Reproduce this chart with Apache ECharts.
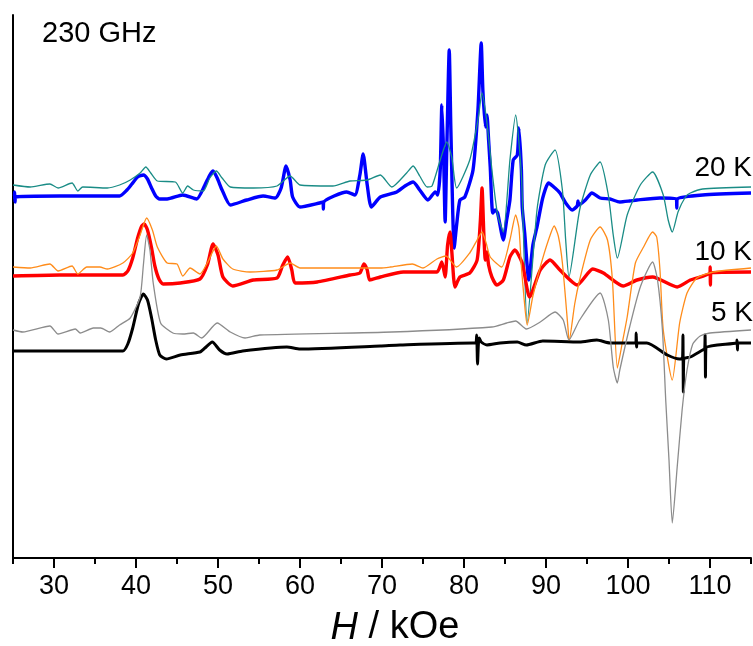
<!DOCTYPE html>
<html>
<head>
<meta charset="utf-8">
<script src="https://cdn.jsdelivr.net/npm/echarts@6/dist/echarts.min.js"></script>
<style>
html,body{margin:0;padding:0;background:#fff;}
#chart{width:753px;height:646px;}
</style>
</head>
<body>
<div id="chart"></div>
<script>
// Field H (kOe) and signal (arbitrary units, traces vertically offset)
const majorTicks = [30, 40, 50, 60, 70, 80, 90, 100, 110];
const minorTicks = [25, 35, 45, 55, 65, 75, 85, 95, 105, 115];

const exp20K = [[25.0,361],[25.15,361],[25.2,366],[25.25,356],[25.3,361],[30.7,362],[38.0,362],[38.9,368],[39.5,374],[40.2,381],[40.9,383],[41.4,379],[41.9,370],[42.4,362],[42.9,359],[43.8,359],[45.7,363],[47.4,359],[48.4,373],[49.0,383],[49.4,387],[49.9,380],[50.5,368],[51.5,353],[53.5,358],[55.5,362],[57.0,360],[57.7,370],[58.3,392],[58.8,378],[59.1,361],[60.0,351],[62.4,355],[62.8,356],[62.85,349],[62.9,356],[65.7,366],[66.7,363],[67.3,383],[67.7,404],[68.2,373],[68.7,351],[69.8,361],[71.8,366],[72.8,372],[73.8,376],[74.6,368],[75.6,358],[76.5,366],[76.8,363],[77.1,388],[77.3,453],[77.5,408],[77.7,336],[77.9,408],[78.2,508],[78.4,428],[78.8,310],[79.1,333],[79.5,358],[80.1,361],[81.1,388],[81.7,448],[82.1,515],[82.3,468],[82.6,431],[82.8,443],[83.0,418],[83.2,391],[83.5,345],[83.8,348],[84.1,345],[84.8,318],[85.2,338],[85.6,358],[86.0,398],[86.5,403],[86.7,430],[87.0,388],[87.1,351],[87.4,325],[87.9,278],[88.4,313],[88.9,331],[89.6,360],[90.3,375],[91.1,370],[91.7,365],[92.4,355],[93.2,348],[93.8,352],[93.9,357],[94.0,353],[94.8,358],[95.6,365],[96.6,360],[97.8,359],[99.0,356],[100.2,357],[101.1,358],[103.9,360],[105.9,359],[105.95,350],[106.0,359],[109.1,363],[115.0,365]];

const sim20K = [[25.0,373],[27.1,371],[29.5,374],[30.5,370],[32.2,375],[32.9,367],[33.5,371],[36.5,370],[38.0,373],[39.3,378],[40.5,385],[41.2,391],[41.8,385],[42.6,377],[44.8,376],[45.7,365],[46.3,372],[47.0,368],[48.2,367],[49.0,380],[49.8,387],[50.5,380],[51.5,371],[54.3,370],[57.2,372],[58.8,382],[60.0,373],[64.0,372],[66.1,377],[68.2,378],[69.8,383],[71.2,371],[73.0,385],[73.8,392],[74.6,382],[75.5,371],[76.1,372],[77.1,398],[77.9,416],[78.5,401],[79.1,370],[80.7,398],[81.7,438],[82.2,465],[82.8,435],[83.5,381],[84.1,343],[84.8,326],[85.6,398],[86.3,443],[87.0,383],[87.7,235],[88.9,348],[89.9,393],[91.1,408],[92.0,368],[92.4,318],[92.8,281],[94.1,348],[95.4,383],[96.6,396],[97.6,363],[98.2,323],[98.7,300],[99.9,343],[101.5,373],[103.0,386],[104.3,363],[104.9,338],[105.4,326],[106.1,346],[107.0,361],[107.6,365],[109.1,369],[115.0,371]];

const exp10K = [[25.0,282],[30.7,283],[38.4,283],[39.0,287],[39.6,300],[40.2,320],[40.7,332],[41.0,334],[41.4,328],[41.9,310],[42.3,292],[42.8,279],[43.3,274],[45.4,275],[47.8,279],[48.7,293],[49.4,314],[50.0,303],[50.6,281],[51.8,272],[54.3,278],[57.2,280],[57.9,293],[58.5,301],[59.0,288],[59.4,275],[62.1,276],[66.1,283],[67.3,285],[67.8,294],[68.2,288],[68.5,278],[69.8,281],[72.6,286],[76.7,286],[77.3,296],[77.7,281],[78.0,313],[78.3,326],[78.5,308],[78.9,271],[79.5,281],[80.7,285],[81.6,298],[82.0,338],[82.2,370],[82.4,328],[82.6,298],[82.8,306],[83.0,293],[83.4,281],[84.0,273],[84.8,278],[85.6,301],[86.2,308],[87.1,295],[88.0,261],[89.3,288],[90.5,298],[91.7,288],[93.8,273],[95.7,289],[97.0,285],[99.4,272],[101.1,278],[103.0,281],[106.0,271],[107.6,278],[110.0,285],[110.02,291],[110.05,273],[110.1,285],[115.0,286]];

const sim10K = [[25.0,291],[27.1,290],[29.5,294],[30.5,287],[32.2,292],[32.9,284],[34.0,291],[35.6,291],[36.5,289],[38.4,295],[39.6,305],[40.5,323],[41.3,340],[42.0,328],[42.6,311],[43.8,295],[45.0,294],[45.7,282],[46.6,290],[47.8,284],[48.7,295],[49.8,312],[50.6,299],[51.8,289],[53.9,286],[57.2,288],[58.8,295],[60.0,290],[64.0,290],[69.8,290],[71.0,291],[73.7,294],[75.0,290],[76.7,299],[77.8,302],[79.1,291],[80.7,305],[81.6,318],[82.2,326],[82.7,315],[83.2,301],[84.6,291],[85.6,318],[86.3,343],[86.7,330],[87.0,291],[87.3,262],[87.7,233],[88.4,262],[89.3,291],[90.3,318],[91.0,332],[91.5,322],[92.0,295],[92.7,228],[92.8,216],[93.5,254],[94.1,278],[95.4,318],[96.6,331],[97.5,318],[98.1,278],[98.7,190],[99.3,215],[99.9,241],[100.9,295],[101.9,311],[103.0,326],[103.5,321],[103.9,288],[104.3,228],[105.4,178],[106.3,235],[107.2,265],[108.4,280],[110.4,286],[115.0,290]];

const exp5K = [[25.0,207],[38.4,207],[39.0,214],[39.6,230],[40.3,254],[40.9,264],[41.4,258],[41.9,240],[42.4,218],[42.9,203],[43.7,199],[45.4,203],[47.8,206],[48.4,210],[49.3,216],[50.2,208],[51.1,204],[53.0,207],[58.4,211],[60.0,209],[69.8,212],[72.2,213],[81.1,215],[81.45,215],[81.55,223],[81.65,194],[81.75,213],[81.85,220],[82.1,216],[82.8,213],[84.4,215],[86.5,216],[87.6,213],[89.6,217],[94.1,216],[96.2,218],[97.8,215],[99.9,215],[100.95,215],[101.0,225],[101.05,211],[101.1,215],[102.3,215],[104.8,203],[106.3,199],[106.65,200],[106.7,223],[106.75,166],[106.8,199],[107.6,201],[109.1,208],[109.35,209],[109.4,223],[109.45,181],[109.5,210],[110.9,213],[113.25,215],[113.3,218],[113.35,208],[113.4,215],[115.0,215]];

const sim5K = [[25.0,228],[26.2,226],[29.5,232],[30.5,224],[32.6,229],[33.2,225],[34.8,230],[35.7,230],[36.8,226],[38.0,233],[39.3,240],[40.5,261],[40.9,293],[41.3,323],[41.7,308],[42.1,275],[43.0,235],[44.5,225],[45.7,224],[47.0,225],[48.0,220],[49.9,235],[51.5,226],[53.3,220],[55.1,223],[71.2,226],[83.4,231],[85.2,235],[86.3,237],[87.6,229],[89.3,236],[91.1,246],[92.1,238],[92.8,218],[94.1,238],[96.6,265],[97.6,238],[98.2,191],[98.7,175],[99.0,188],[100.2,231],[101.5,271],[103.0,296],[103.6,278],[104.2,228],[104.6,158],[105.0,98],[105.4,35],[106.0,91],[106.6,148],[107.2,188],[107.9,214],[108.8,222],[110.0,225],[115.0,228]];

const FONT = "'Liberation Sans', Arial, sans-serif";

const chart = echarts.init(document.getElementById('chart'), null, {renderer: 'canvas'});

function line(name, data, color, width, smooth) {
  return {
    name: name, type: 'line', data: data, xAxisIndex: 0, yAxisIndex: 0,
    showSymbol: false, symbol: 'none', smooth: smooth,
    lineStyle: {color: color, width: width, join: 'round'},
    itemStyle: {color: color},
    z: 2
  };
}

chart.setOption({
  animation: false,
  backgroundColor: '#fff',
  grid: {left: 13, right: 2, top: 15, bottom: 88, containLabel: false},
  xAxis: [
    {
      type: 'value', min: 25, max: 115, position: 'bottom',
      axisLine: {show: true, onZero: false, lineStyle: {color: '#000', width: 2}},
      axisTick: {show: true, inside: false, length: 10, customValues: majorTicks, lineStyle: {color: '#000', width: 2}},
      axisLabel: {show: true, customValues: majorTicks, fontSize: 27, color: '#000', fontFamily: FONT, margin: 15},
      splitLine: {show: false}
    },
    {
      type: 'value', min: 25, max: 115, position: 'bottom', gridIndex: 0,
      axisLine: {show: false, onZero: false},
      axisTick: {show: true, inside: false, length: 6, customValues: minorTicks, lineStyle: {color: '#000', width: 2}},
      axisLabel: {show: false},
      splitLine: {show: false}
    }
  ],
  yAxis: {
    type: 'value', min: 0, max: 543,
    axisLine: {show: true, onZero: false, lineStyle: {color: '#000', width: 2}},
    axisTick: {show: false}, axisLabel: {show: false}, splitLine: {show: false}
  },
  series: [
    line('20 K exp', exp20K, '#0000ff', 3.4, 0.2),
    line('20 K sim', sim20K, '#1a8c86', 1.3, 0.2),
    line('10 K exp', exp10K, '#ff0000', 3.4, 0.2),
    line('10 K sim', sim10K, '#ff8c1a', 1.3, 0.2),
    line('5 K exp', exp5K, '#000000', 3, 0.2),
    line('5 K sim', sim5K, '#8c8c8c', 1.3, 0.2)
  ],
  graphic: [
    {type: 'text', x: 42, y: 34, style: {text: '230 GHz', font: '29px ' + FONT, fill: '#000', align: 'left', verticalAlign: 'middle'}},
    {type: 'text', x: 752, y: 168, style: {text: '20 K', font: '28px ' + FONT, fill: '#000', align: 'right', verticalAlign: 'middle'}},
    {type: 'text', x: 752, y: 252, style: {text: '10 K', font: '28px ' + FONT, fill: '#000', align: 'right', verticalAlign: 'middle'}},
    {type: 'text', x: 753, y: 313, style: {text: '5 K', font: '28px ' + FONT, fill: '#000', align: 'right', verticalAlign: 'middle'}},
    {type: 'text', x: 395, y: 628, style: {
      text: '{i|H} / kOe', font: '38px ' + FONT, fill: '#000', align: 'center', verticalAlign: 'middle',
      rich: {i: {fontStyle: 'italic', fontSize: 38, fontFamily: FONT, fill: '#000'}}
    }}
  ]
});
</script>
</body>
</html>
